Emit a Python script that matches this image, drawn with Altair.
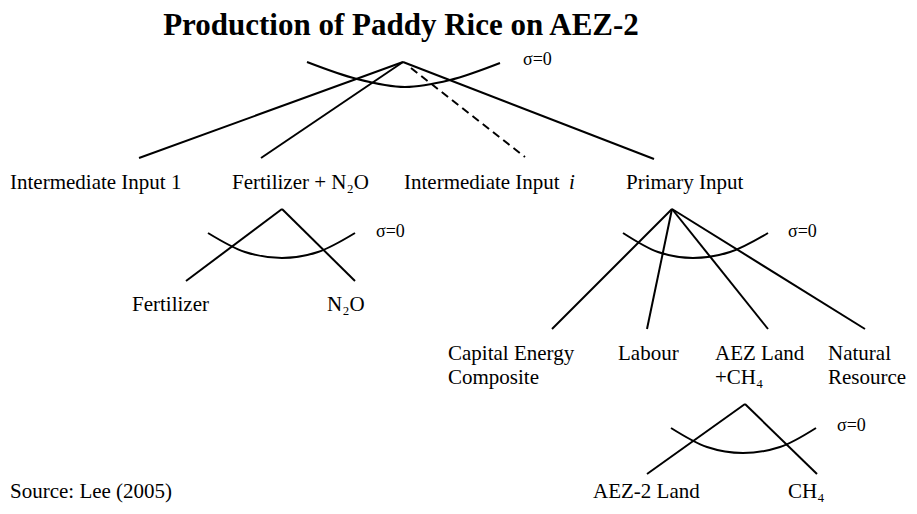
import altair as alt
import pandas as pd

# ---- data (pixel space) ----
title_text = ["Production of Paddy Rice on AEZ-2"]
title_x = [401]
title_y = [26]

# solid branches: apex -> child
edge_x1 = [403, 403, 403, 282, 282, 672, 672, 672, 672, 745, 745]
edge_y1 = [62, 62, 62, 209, 209, 209, 209, 209, 209, 404, 404]
edge_x2 = [139, 261, 654, 186, 355, 552, 647, 768, 865, 647, 817]
edge_y2 = [158, 158, 159, 281, 281, 329, 329, 329, 329, 474, 474]

# dashed branch (Intermediate Input i)
dash_x1 = [411]
dash_y1 = [68]
dash_x2 = [525]
dash_y2 = [157]

# elasticity arcs
arc_id = ["top"] * 5 + ["fert"] * 5 + ["prim"] * 5 + ["aez"] * 5
arc_x = [307, 357, 405, 450, 500,
         208, 245, 282, 318, 355,
         623, 658, 693, 730, 768,
         671, 707, 743, 780, 816]
arc_y = [62, 79, 87, 80, 63,
         233, 252, 258, 252, 233,
         233, 252, 258, 252, 233,
         428, 447, 453, 447, 428]

sigma_text = ["σ=0", "σ=0", "σ=0", "σ=0"]
sigma_x = [523, 376, 788, 837]
sigma_y = [60, 232, 232, 426]

label_text = ["Intermediate Input 1", "Fertilizer + N₂O", "Intermediate Input ",
              "Primary Input", "Fertilizer", "N₂O",
              "Capital Energy", "Composite", "Labour", "AEZ Land", "+CH₄",
              "Natural", "Resource", "AEZ-2 Land", "CH₄"]
label_x = [10, 232, 404, 626, 132, 327, 448, 448, 618, 715, 715, 828, 828, 593, 788]
label_y = [183, 183, 183, 183, 305, 305, 354, 378, 354, 354, 378, 354, 378, 492, 492]

italic_text = ["i"]
italic_x = [569]
italic_y = [183]

source_text = ["Source: Lee (2005)"]
source_x = [10]
source_y = [492]

# ---- chart ----
W, H = 901, 498
xs = alt.Scale(domain=[8, 8 + W], nice=False, zero=False)
ys = alt.Scale(domain=[8, 8 + H], nice=False, zero=False, reverse=True)
X = lambda f: alt.X(f, type="quantitative", scale=xs, axis=None)
Y = lambda f: alt.Y(f, type="quantitative", scale=ys, axis=None)

edges = pd.DataFrame({"x1": edge_x1, "y1": edge_y1, "x2": edge_x2, "y2": edge_y2})
dashes = pd.DataFrame({"x1": dash_x1, "y1": dash_y1, "x2": dash_x2, "y2": dash_y2})
arcs = pd.DataFrame({"id": arc_id, "x": arc_x, "y": arc_y})
sigmas = pd.DataFrame({"t": sigma_text, "x": sigma_x, "y": sigma_y})
labels = pd.DataFrame({"t": label_text, "x": label_x, "y": label_y})
italics = pd.DataFrame({"t": italic_text, "x": italic_x, "y": italic_y})
titles = pd.DataFrame({"t": title_text, "x": title_x, "y": title_y})
sources = pd.DataFrame({"t": source_text, "x": source_x, "y": source_y})

FONT = "Liberation Serif"

edge_layer = alt.Chart(edges).mark_rule(color="black", strokeWidth=2).encode(
    x=X("x1"), y=Y("y1"), x2="x2", y2="y2")
dash_layer = alt.Chart(dashes).mark_rule(color="black", strokeWidth=2, strokeDash=[8, 5]).encode(
    x=X("x1"), y=Y("y1"), x2="x2", y2="y2")
arc_layer = alt.Chart(arcs).mark_line(color="black", strokeWidth=2, interpolate="monotone").encode(
    x=X("x"), y=Y("y"), detail="id:N")
sigma_layer = alt.Chart(sigmas).mark_text(font=FONT, fontSize=18, align="left", baseline="middle",
                                          color="black").encode(x=X("x"), y=Y("y"), text="t:N")
label_layer = alt.Chart(labels).mark_text(font=FONT, fontSize=21, align="left", baseline="middle",
                                          color="black").encode(x=X("x"), y=Y("y"), text="t:N")
italic_layer = alt.Chart(italics).mark_text(font=FONT, fontSize=21, fontStyle="italic", align="left",
                                            baseline="middle", color="black").encode(
    x=X("x"), y=Y("y"), text="t:N")
title_layer = alt.Chart(titles).mark_text(font=FONT, fontSize=31, fontWeight="bold", align="center",
                                          baseline="middle", color="black").encode(
    x=X("x"), y=Y("y"), text="t:N")
source_layer = alt.Chart(sources).mark_text(font=FONT, fontSize=21, align="left", baseline="middle",
                                            color="black").encode(x=X("x"), y=Y("y"), text="t:N")

chart = alt.layer(edge_layer, dash_layer, arc_layer, sigma_layer, label_layer, italic_layer,
                  title_layer, source_layer).properties(
    width=W, height=H, padding=0, autosize=alt.AutoSizeParams(type="none"),
    background="white"
).configure_view(stroke=None)

chart.save("out.html", embed_options={"renderer": "svg", "actions": False})
